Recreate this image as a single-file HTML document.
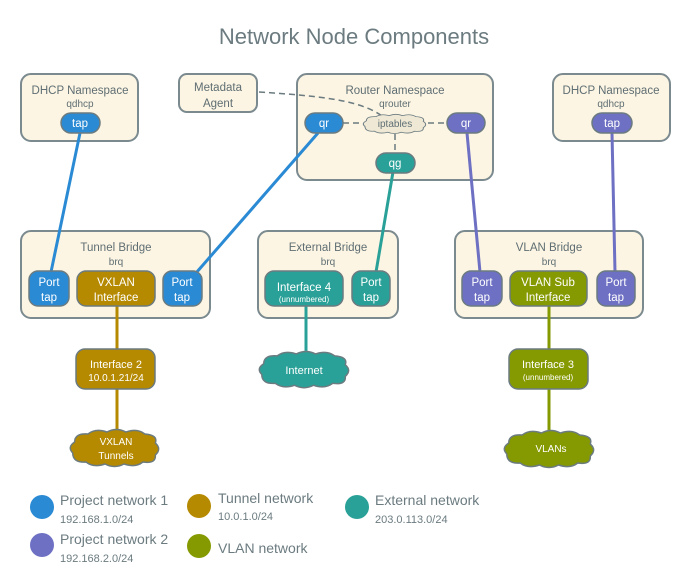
<!DOCTYPE html>
<html><head><meta charset="utf-8"><style>
html,body{margin:0;padding:0;background:#fff;}
svg{display:block;font-family:"Liberation Sans",sans-serif;}
</style></head><body>
<svg width="693" height="584" viewBox="0 0 693 584" xmlns="http://www.w3.org/2000/svg">
<defs>
<path id="cloud" d="M6,26 Q0,20 8,15 Q8,6 22,7 Q30,1 42,5 Q52,0 62,5 Q74,1 82,7 Q96,8 93,16 Q100,22 93,28 Q94,37 80,35 Q72,41 60,37 Q50,42 40,37 Q28,41 20,35 Q6,36 6,26 Z"/>
</defs>
<text x="354" y="44" font-size="22" fill="#6b7b80" text-anchor="middle">Network Node Components</text>

<g stroke="#7b8a8f" stroke-width="2" fill="#fcf5e3">
<rect x="21" y="74" width="117" height="67" rx="10"/>
<rect x="179" y="74" width="78" height="38" rx="8"/>
<rect x="297" y="74" width="196" height="106" rx="10"/>
<rect x="553" y="74" width="117" height="67" rx="10"/>
<rect x="21" y="231" width="189" height="87" rx="10"/>
<rect x="258" y="231" width="140" height="87" rx="10"/>
<rect x="455" y="231" width="188" height="87" rx="10"/>
</g>

<g fill="#5f6e73" font-size="11.5" text-anchor="middle">
<text x="80" y="94">DHCP Namespace</text><text x="80" y="107" font-size="10">qdhcp</text>
<text x="218" y="91">Metadata</text><text x="218" y="107">Agent</text>
<text x="395" y="94">Router Namespace</text><text x="395" y="107" font-size="10">qrouter</text>
<text x="611" y="94">DHCP Namespace</text><text x="611" y="107" font-size="10">qdhcp</text>
<text x="116" y="251">Tunnel Bridge</text><text x="116" y="265" font-size="10">brq</text>
<text x="328" y="251">External Bridge</text><text x="328" y="265" font-size="10">brq</text>
<text x="549" y="251">VLAN Bridge</text><text x="549" y="265" font-size="10">brq</text>
</g>

<g stroke="#6b7b80" stroke-width="1.5" fill="none" stroke-dasharray="6,4">
<path d="M259,92 C320,96 360,100 382,116"/>
<line x1="343" y1="123" x2="362" y2="123"/>
<line x1="428" y1="123" x2="447" y2="123"/>
<line x1="395" y1="134" x2="395" y2="153"/>
</g>

<g stroke-width="3" fill="none">
<line x1="80" y1="133" x2="51" y2="272" stroke="#2a8ad4"/>
<line x1="318" y1="133" x2="196" y2="273" stroke="#2a8ad4"/>
<line x1="393" y1="172" x2="376" y2="272" stroke="#2aa198"/>
<line x1="467" y1="133" x2="480" y2="272" stroke="#6e70c3"/>
<line x1="612" y1="133" x2="615" y2="272" stroke="#6e70c3"/>
<line x1="117" y1="306" x2="117" y2="430" stroke="#b58900"/>
<line x1="306" y1="306" x2="306" y2="352" stroke="#2aa198"/>
<line x1="549" y1="306" x2="549" y2="430" stroke="#859900"/>
</g>

<g stroke="#6b7b80" stroke-width="1.5">
<rect x="61" y="113" width="39" height="20" rx="10" fill="#2a8ad4"/>
<rect x="305" y="113" width="38" height="20" rx="10" fill="#2a8ad4"/>
<rect x="447" y="113" width="38" height="20" rx="10" fill="#6e70c3"/>
<rect x="376" y="153" width="39" height="20" rx="10" fill="#2aa198"/>
<rect x="592" y="113" width="40" height="20" rx="10" fill="#6e70c3"/>
<rect x="29" y="271" width="40" height="35" rx="9" fill="#2a8ad4"/>
<rect x="77" y="271" width="78" height="35" rx="9" fill="#b58900"/>
<rect x="163" y="271" width="39" height="35" rx="9" fill="#2a8ad4"/>
<rect x="265" y="271" width="78" height="35" rx="9" fill="#2aa198"/>
<rect x="352" y="271" width="38" height="35" rx="9" fill="#2aa198"/>
<rect x="462" y="271" width="40" height="35" rx="9" fill="#6e70c3"/>
<rect x="510" y="271" width="77" height="35" rx="9" fill="#859900"/>
<rect x="597" y="271" width="38" height="35" rx="9" fill="#6e70c3"/>
<rect x="76" y="349" width="79" height="40" rx="9" fill="#b58900"/>
<rect x="509" y="349" width="79" height="40" rx="9" fill="#859900"/>
</g>

<g stroke="#6b7b80" stroke-width="1.5">
<use href="#cloud" transform="translate(361,113) scale(0.67,0.52)" fill="#eee8d5"/>
<use href="#cloud" transform="translate(256,349) scale(0.96,0.98)" fill="#2aa198"/>
<use href="#cloud" transform="translate(67,427) scale(0.95,1)" fill="#b58900"/>
<use href="#cloud" transform="translate(501,428) scale(0.96,1)" fill="#859900"/>
</g>

<g fill="#fff" font-size="11.5" text-anchor="middle">
<text x="80" y="127">tap</text>
<text x="324" y="127">qr</text>
<text x="466" y="127">qr</text>
<text x="395" y="167">qg</text>
<text x="612" y="127">tap</text>
<text x="49" y="286">Port</text><text x="49" y="301">tap</text>
<text x="116" y="286">VXLAN</text><text x="116" y="301">Interface</text>
<text x="182" y="286">Port</text><text x="182" y="301">tap</text>
<text x="304" y="291">Interface 4</text><text x="304" y="302" font-size="8">(unnumbered)</text>
<text x="371" y="286">Port</text><text x="371" y="301">tap</text>
<text x="482" y="286">Port</text><text x="482" y="301">tap</text>
<text x="548" y="286">VLAN Sub</text><text x="548" y="301">Interface</text>
<text x="616" y="286">Port</text><text x="616" y="301">tap</text>
<text x="116" y="368" font-size="11">Interface 2</text><text x="116" y="381" font-size="10">10.0.1.21/24</text>
<text x="548" y="368" font-size="11">Interface 3</text><text x="548" y="380" font-size="8">(unnumbered)</text>
<text x="304" y="374" font-size="11">Internet</text>
<text x="116" y="445" font-size="10">VXLAN</text><text x="116" y="459" font-size="10">Tunnels</text>
<text x="551" y="452" font-size="10">VLANs</text>
</g>
<text x="395" y="127" font-size="10" fill="#5f6e73" text-anchor="middle">iptables</text>

<circle cx="42" cy="507" r="12" fill="#2a8ad4"/>
<circle cx="42" cy="545" r="12" fill="#6e70c3"/>
<circle cx="199" cy="506" r="12" fill="#b58900"/>
<circle cx="199" cy="546" r="12" fill="#859900"/>
<circle cx="357" cy="507" r="12" fill="#2aa198"/>
<g fill="#6b7b80">
<text x="60" y="505" font-size="14">Project network 1</text><text x="60" y="523" font-size="11">192.168.1.0/24</text>
<text x="60" y="544" font-size="14">Project network 2</text><text x="60" y="562" font-size="11">192.168.2.0/24</text>
<text x="218" y="503" font-size="14">Tunnel network</text><text x="218" y="520" font-size="11">10.0.1.0/24</text>
<text x="218" y="553" font-size="14">VLAN network</text>
<text x="375" y="505" font-size="14">External network</text><text x="375" y="523" font-size="11">203.0.113.0/24</text>
</g>
</svg>
</body></html>
